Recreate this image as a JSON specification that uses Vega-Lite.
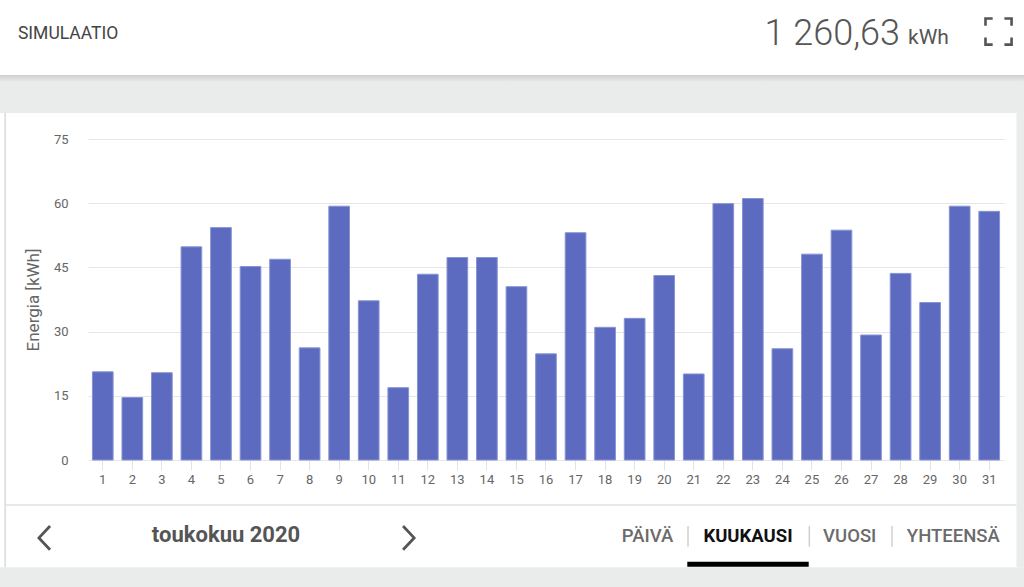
{
  "$schema": "https://vega.github.io/schema/vega-lite/v6.json",
  "width": 916,
  "height": 321,
  "autosize": {"type": "none"},
  "padding": {"left": 88, "top": 139, "right": 20, "bottom": 127},
  "background": "#ffffff",
  "config": {"font": "Roboto", "view": {"stroke": null}},
  "data": {"values": [
    {"day": 1, "energy": 20.6}, {"day": 2, "energy": 14.6}, {"day": 3, "energy": 20.4},
    {"day": 4, "energy": 49.8}, {"day": 5, "energy": 54.3}, {"day": 6, "energy": 45.2},
    {"day": 7, "energy": 46.9}, {"day": 8, "energy": 26.2}, {"day": 9, "energy": 59.3},
    {"day": 10, "energy": 37.2}, {"day": 11, "energy": 16.9}, {"day": 12, "energy": 43.4},
    {"day": 13, "energy": 47.3}, {"day": 14, "energy": 47.3}, {"day": 15, "energy": 40.5},
    {"day": 16, "energy": 24.8}, {"day": 17, "energy": 53.1}, {"day": 18, "energy": 31.0},
    {"day": 19, "energy": 33.1}, {"day": 20, "energy": 43.1}, {"day": 21, "energy": 20.1},
    {"day": 22, "energy": 59.9}, {"day": 23, "energy": 61.1}, {"day": 24, "energy": 26.0},
    {"day": 25, "energy": 48.1}, {"day": 26, "energy": 53.7}, {"day": 27, "energy": 29.2},
    {"day": 28, "energy": 43.6}, {"day": 29, "energy": 36.8}, {"day": 30, "energy": 59.3},
    {"day": 31, "energy": 58.1}
  ]},
  "layer": [
    {
      "mark": {"type": "bar", "color": "#5c6bc0", "stroke": "#8893d4", "strokeWidth": 1},
      "encoding": {
        "x": {
          "field": "day",
          "type": "ordinal",
          "scale": {"type": "band", "domain": [1,2,3,4,5,6,7,8,9,10,11,12,13,14,15,16,17,18,19,20,21,22,23,24,25,26,27,28,29,30,31], "paddingInner": 0.3, "paddingOuter": 0.15},
          "axis": {
            "title": null,
            "labelAngle": 0,
            "labelFontSize": 13,
            "labelColor": "#666666",
            "labelPadding": 3,
            "tickSize": 10,
            "tickColor": "#e3e3e3",
            "domain": false,
            "grid": false
          }
        },
        "y": {
          "field": "energy",
          "type": "quantitative",
          "scale": {"domain": [0, 75], "nice": false, "zero": true},
          "axis": {
            "title": "Energia [kWh]",
            "titleFontSize": 17,
            "titleFontWeight": "normal",
            "titleColor": "#666666",
            "titlePadding": 11,
            "values": [0, 15, 30, 45, 60, 75],
            "labelFontSize": 13,
            "labelColor": "#666666",
            "labelPadding": 20,
            "ticks": false,
            "domain": false,
            "grid": true,
            "gridColor": "#e6e6e6",
            "gridWidth": 1
          }
        }
      }
    },
    {
      "data": {"values": [{}]},
      "mark": {"type": "rect", "color": "#eaebeb"},
      "encoding": {
        "x": {"datum": 1, "type": "ordinal", "bandPosition": -4.6},
        "x2": {"datum": 31, "bandPosition": 2.5},
        "y": {"datum": 89.95, "type": "quantitative"},
        "y2": {"datum": 81.07}
      }
    },
    {
      "data": {"values": [{}]},
      "mark": {"type": "rect", "color": {"gradient": "linear", "x1": 0, "y1": 0, "x2": 0, "y2": 1, "stops": [{"offset": 0, "color": "#d0d0d0"}, {"offset": 1, "color": "#eaebeb"}]}},
      "encoding": {
        "x": {"datum": 1, "type": "ordinal", "bandPosition": -4.6},
        "x2": {"datum": 31, "bandPosition": 2.5},
        "y": {"datum": 89.95, "type": "quantitative"},
        "y2": {"datum": 88.3}
      }
    },
    {
      "data": {"values": [{}]},
      "mark": {"type": "rect", "color": "#eaebeb"},
      "encoding": {
        "x": {"datum": 1, "type": "ordinal", "bandPosition": -4.6},
        "x2": {"datum": 31, "bandPosition": 2.5},
        "y": {"datum": -25.05, "type": "quantitative"},
        "y2": {"datum": -31}
      }
    },
    {
      "data": {"values": [{}]},
      "mark": {"type": "rect", "color": "#eaebeb"},
      "encoding": {
        "x": {"datum": 31, "type": "ordinal", "bandPosition": 1.82},
        "x2": {"datum": 31, "bandPosition": 2.5},
        "y": {"datum": 81.07, "type": "quantitative"},
        "y2": {"datum": -25.05}
      }
    },
    {
      "data": {"values": [{}]},
      "mark": {"type": "rule", "color": "#e2e2e2", "strokeWidth": 2},
      "encoding": {
        "x": {"datum": 1, "type": "ordinal", "bandPosition": -4.22},
        "y": {"datum": 81.07, "type": "quantitative"},
        "y2": {"datum": -25.05}
      }
    },
    {
      "data": {"values": [{}]},
      "mark": {"type": "rule", "color": "#e8e8e8", "strokeWidth": 2},
      "encoding": {
        "x": {"datum": 1, "type": "ordinal", "bandPosition": -4.18},
        "x2": {"datum": 31, "bandPosition": 1.82},
        "y": {"datum": -10.51, "type": "quantitative"}
      }
    },
    {
      "data": {"values": [{}]},
      "mark": {"type": "text", "text": "SIMULAATIO", "align": "left", "baseline": "alphabetic", "fontSize": 17.5, "color": "#444444", "font": "Roboto"},
      "encoding": {
        "x": {"datum": 1, "type": "ordinal", "bandPosition": -3.6},
        "y": {"datum": 98.3, "type": "quantitative"}
      }
    },
    {
      "data": {"values": [{}]},
      "mark": {"type": "text", "text": "1 260,63", "align": "right", "baseline": "alphabetic", "fontSize": 36, "fontWeight": 300, "color": "#555555", "font": "Roboto"},
      "encoding": {
        "x": {"datum": 28, "type": "ordinal", "bandPosition": 0.472},
        "y": {"datum": 96.96, "type": "quantitative"}
      }
    },
    {
      "data": {"values": [{}]},
      "mark": {"type": "text", "text": "kWh", "align": "left", "baseline": "alphabetic", "fontSize": 21, "fontWeight": 400, "color": "#555555", "font": "Roboto"},
      "encoding": {
        "x": {"datum": 28, "type": "ordinal", "bandPosition": 0.86},
        "y": {"datum": 97.3, "type": "quantitative"}
      }
    },
    {
      "data": {"values": [{}]},
      "mark": {"type": "point", "shape": "M-1,-0.45V-1H-0.45M0.45,-1H1V-0.45M1,0.45V1H0.45M-0.45,1H-1V0.45", "filled": false, "stroke": "#555555", "strokeWidth": 2.6, "size": 680, "opacity": 1},
      "encoding": {
        "x": {"datum": 31, "type": "ordinal", "bandPosition": 0.95},
        "y": {"datum": 100.1, "type": "quantitative"}
      }
    },
    {
      "data": {"values": [{}]},
      "mark": {"type": "point", "shape": "M0.42,-0.9L-0.42,0L0.42,0.9", "filled": false, "stroke": "#555555", "strokeWidth": 2.8, "size": 700, "opacity": 1},
      "encoding": {
        "x": {"datum": 1, "type": "ordinal", "bandPosition": -2.318},
        "y": {"datum": -18.2, "type": "quantitative"}
      }
    },
    {
      "data": {"values": [{}]},
      "mark": {"type": "point", "shape": "M-0.42,-0.9L0.42,0L-0.42,0.9", "filled": false, "stroke": "#555555", "strokeWidth": 2.8, "size": 700, "opacity": 1},
      "encoding": {
        "x": {"datum": 11, "type": "ordinal", "bandPosition": 1.0},
        "y": {"datum": -18.2, "type": "quantitative"}
      }
    },
    {
      "data": {"values": [{}]},
      "mark": {"type": "text", "text": "toukokuu 2020", "align": "center", "baseline": "alphabetic", "fontSize": 22, "fontWeight": "bold", "color": "#555555", "font": "Roboto"},
      "encoding": {
        "x": {"datum": 5, "type": "ordinal", "bandPosition": 0.744},
        "y": {"datum": -19.23, "type": "quantitative"}
      }
    },
    {
      "data": {"values": [{}]},
      "mark": {"type": "text", "text": "PÄIVÄ", "align": "center", "baseline": "alphabetic", "fontSize": 18.5, "fontWeight": 500, "color": "#6b6b6b", "font": "Roboto"},
      "encoding": {
        "x": {"datum": 20, "type": "ordinal", "bandPosition": -0.307},
        "y": {"datum": -19.09, "type": "quantitative"}
      }
    },
    {
      "data": {"values": [{}]},
      "mark": {"type": "text", "text": "KUUKAUSI", "align": "center", "baseline": "alphabetic", "fontSize": 18.5, "fontWeight": "bold", "color": "#111111", "font": "Roboto"},
      "encoding": {
        "x": {"datum": 23, "type": "ordinal", "bandPosition": 0.266},
        "y": {"datum": -19.09, "type": "quantitative"}
      }
    },
    {
      "data": {"values": [{}]},
      "mark": {"type": "text", "text": "VUOSI", "align": "center", "baseline": "alphabetic", "fontSize": 18.5, "fontWeight": 500, "color": "#6b6b6b", "font": "Roboto"},
      "encoding": {
        "x": {"datum": 26, "type": "ordinal", "bandPosition": 0.898},
        "y": {"datum": -19.09, "type": "quantitative"}
      }
    },
    {
      "data": {"values": [{}]},
      "mark": {"type": "text", "text": "YHTEENSÄ", "align": "center", "baseline": "alphabetic", "fontSize": 18.5, "fontWeight": 500, "color": "#6b6b6b", "font": "Roboto"},
      "encoding": {
        "x": {"datum": 30, "type": "ordinal", "bandPosition": 0.192},
        "y": {"datum": -19.09, "type": "quantitative"}
      }
    },
    {
      "data": {"values": [{}]},
      "mark": {"type": "rule", "color": "#d0d0d0", "strokeWidth": 1.5},
      "encoding": {
        "x": {"datum": 21, "type": "ordinal", "bandPosition": 0.223},
        "y": {"datum": -15.42, "type": "quantitative"},
        "y2": {"datum": -20.26}
      }
    },
    {
      "data": {"values": [{}]},
      "mark": {"type": "rule", "color": "#d0d0d0", "strokeWidth": 1.5},
      "encoding": {
        "x": {"datum": 25, "type": "ordinal", "bandPosition": 0.373},
        "y": {"datum": -15.42, "type": "quantitative"},
        "y2": {"datum": -20.26}
      }
    },
    {
      "data": {"values": [{}]},
      "mark": {"type": "rule", "color": "#d0d0d0", "strokeWidth": 1.5},
      "encoding": {
        "x": {"datum": 28, "type": "ordinal", "bandPosition": 0.086},
        "y": {"datum": -15.42, "type": "quantitative"},
        "y2": {"datum": -20.26}
      }
    },
    {
      "data": {"values": [{}]},
      "mark": {"type": "rect", "color": "#000000"},
      "encoding": {
        "x": {"datum": 21, "type": "ordinal", "bandPosition": 0.188},
        "x2": {"datum": 25, "bandPosition": 0.344},
        "y": {"datum": -23.76, "type": "quantitative"},
        "y2": {"datum": -24.93}
      }
    }
  ]
}
